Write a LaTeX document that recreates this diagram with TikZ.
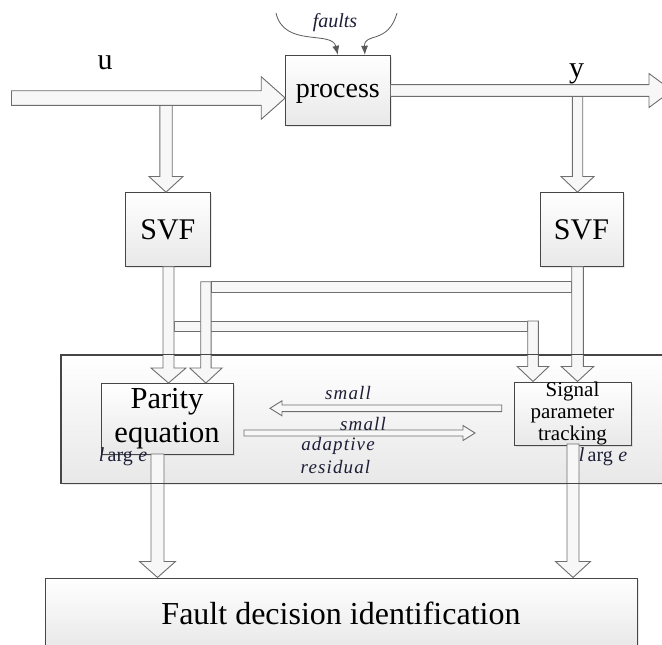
\documentclass[tikz,border=0pt]{standalone}
\usepackage{fontspec}
\setmainfont{Liberation Serif}
\usetikzlibrary{calc,arrows.meta,shadows}

\definecolor{boxline}{RGB}{70,70,70}
\definecolor{pipeline}{RGB}{110,110,110}
\definecolor{lab}{RGB}{30,30,55}

\tikzset{
  box/.style={draw=boxline, line width=1pt, top color=white, bottom color=black!9,
    inner sep=0pt, align=center,
    drop shadow={shadow xshift=1.5pt, shadow yshift=-1.5pt, opacity=0.18}},
  pipe/.style={draw=pipeline, line width=0.9pt, fill=black!3, line join=miter},
  lbl/.style={text=lab, font=\fontsize{19}{21}\selectfont\itshape\addfontfeatures{LetterSpace=6}, inner sep=0pt},
  plain/.style={inner sep=0pt},
  faultline/.style={draw=black!65, line width=0.8pt, -{Latex[length=9pt,width=7pt]}},
}

% hollow block arrows: #1 start, #2 tip, #3 half shaft, #4 half head, #5 head length
\newcommand{\downblock}[5]{\path[pipe] let \p1=(#1), \p2=(#2) in
  (\x1-#3,\y1) -- (\x1-#3,\y2+#5) -- (\x1-#4,\y2+#5) -- (\x1,\y2)
  -- (\x1+#4,\y2+#5) -- (\x1+#3,\y2+#5) -- (\x1+#3,\y1) -- cycle;}
\newcommand{\rightblock}[5]{\path[pipe] let \p1=(#1), \p2=(#2) in
  (\x1,\y1+#3) -- (\x2-#5,\y1+#3) -- (\x2-#5,\y1+#4) -- (\x2,\y1)
  -- (\x2-#5,\y1-#4) -- (\x2-#5,\y1-#3) -- (\x1,\y1-#3) -- cycle;}
\newcommand{\leftblock}[5]{\path[pipe] let \p1=(#1), \p2=(#2) in
  (\x1,\y1+#3) -- (\x2+#5,\y1+#3) -- (\x2+#5,\y1+#4) -- (\x2,\y1)
  -- (\x2+#5,\y1-#4) -- (\x2+#5,\y1-#3) -- (\x1,\y1-#3) -- cycle;}

\begin{document}
\begin{tikzpicture}[x=1pt,y=-1pt]
\useasboundingbox (0,0) rectangle (662,645);
\clip (0,0) rectangle (662,645);

% detection block that holds both methods
\node[box, minimum width=614pt, minimum height=128pt] (cont) at (368,419) {};

% blocks
\node[box, minimum width=104.3pt, minimum height=70.4pt] (proc) at (337.85,90.5) {};
\node[box, minimum width=85.7pt, minimum height=74pt, font=\fontsize{30}{32}\selectfont] (svfL) at (167.85,229.7) {SVF};
\node[box, minimum width=83pt, minimum height=74pt, font=\fontsize{30}{32}\selectfont] (svfR) at (581.5,229.7) {SVF};
\node[box, minimum width=132pt, minimum height=70.5pt, font=\fontsize{30.5}{33.4}\selectfont] (par) at (167,418.75) {Parity\\equation};
\node[box, minimum width=117pt, minimum height=60.5pt, font=\fontsize{21}{22.2}\selectfont] (sig) at (572.5,413.75) {Signal\\parameter\\tracking};
\node[box, minimum width=592pt, minimum height=70pt, font=\fontsize{32}{34}\selectfont] (fault) at (341,613) {Fault decision identification};

% cross-feeding pipes from the two filters
\coordinate (lpTop) at (533,321);
\path[pipe] (174.3,321) rectangle (527.7,331);
\downblock{lpTop}{lpTop |- sig.north}{5.3pt}{15.8pt}{15pt}
\coordinate (upTop) at (205.9,281.7);
\downblock{upTop}{upTop |- par.north}{5.2pt}{16.2pt}{15pt}
\path[pipe] (211.1,281.7) rectangle (571.7,292.7);

% filter outputs
\coordinate (sl) at (168.5,266.7);
\coordinate (sr) at (577.5,266.7);
\downblock{sl}{sl |- par.north}{5.5pt}{17.5pt}{15pt}
\downblock{sr}{sr |- sig.north}{5.8pt}{16.2pt}{15pt}

% taps of u and y into the filters
\coordinate (bu) at (166,98);
\coordinate (by) at (577.5,90);
\downblock{bu}{bu |- svfL.north}{6.2pt}{17pt}{15.7pt}
\downblock{by}{by |- svfR.north}{5.2pt}{16.5pt}{15.7pt}

% input and output signals
\coordinate (uin) at (11.5,98);
\coordinate (yout) at (672,90.5);
\rightblock{uin}{proc.west |- uin}{7.3pt}{21.3pt}{24pt}
\rightblock{proc.east}{yout}{5.9pt}{17pt}{23pt}
\node[plain, font=\fontsize{28}{30}\selectfont] (proctext) at (337.8,93.8) {process};

% faults acting on the process
\coordinate (fa) at (276,13);
\coordinate (fb) at (397,13);
\draw[faultline] (fa) .. controls (284,48) and (332,30) .. (proc.north);
\draw[faultline] (fb) .. controls (388,45) and (364,32) .. ([xshift=27pt]proc.north);

% exchange between the two methods
\coordinate (s1) at (501.7,408.3);
\coordinate (s2) at (270,408.3);
\coordinate (t1) at (244,433);
\coordinate (t2) at (475,433);
\leftblock{s1}{s2}{3.3pt}{7.5pt}{12pt}
\rightblock{t1}{t2}{3pt}{7.5pt}{12pt}

% results to the decision block
\coordinate (pf) at (157.5,454);
\coordinate (sf) at (573,444);
\downblock{pf}{pf |- fault.north}{6.5pt}{18pt}{16pt}
\downblock{sf}{sf |- fault.north}{6pt}{17.5pt}{16pt}

% border of the detection block shows through the arrows
\draw[draw=boxline, line width=1pt] (cont.south west) rectangle (cont.north east);

% labels
\node[plain, font=\fontsize{30}{32}\selectfont] (ulab) at (105,63) {u};
\node[plain, font=\fontsize{30}{32}\selectfont] (ylab) at (576.5,74) {y};
\node[lbl, font=\fontsize{20}{22}\selectfont\itshape] (flab) at (335,23) {faults};
\node[lbl] (sm1) at (348,393) {small};
\node[lbl] (sm2) at (363,424) {small};
\node[lbl] (ad) at (338,446) {adaptive};
\node[lbl] (rs) at (335.5,467) {residual};
\node[lbl, font=\fontsize{20}{22}\selectfont\itshape] (lg1) at (123,457) {\textit{l}\,\textup{arg}\;\textit{e}};
\node[lbl, font=\fontsize{20}{22}\selectfont\itshape] (lg2) at (603,457) {\textit{l}\,\textup{arg}\;\textit{e}};
\end{tikzpicture}
\end{document}
